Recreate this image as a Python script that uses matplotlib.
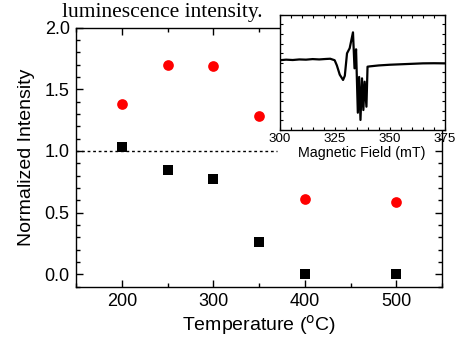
import matplotlib
matplotlib.use("Agg")
import matplotlib.pyplot as plt
from matplotlib.ticker import MultipleLocator, NullFormatter

plt.rcParams["font.family"] = ["Liberation Sans", "DejaVu Sans"]

# main panel: normalized intensity vs annealing temperature
temps = [200, 250, 300, 350, 400, 500]
red_vals = [1.38, 1.70, 1.69, 1.28, 0.61, 0.585]
black_vals = [1.035, 0.847, 0.77, 0.26, 0.005, 0.005]

# inset: EPR spectrum (field in mT, arbitrary signal)
field = [300, 303, 306, 309, 312, 315, 318, 321, 323, 325, 326, 327.3,
         328.8, 329.6, 330.6, 331.8, 333.3, 334.0, 334.7, 335.5, 336.1,
         336.7, 337.4, 338.0, 338.6, 339.4, 339.9, 341, 345, 350, 355,
         360, 365, 370, 375]
signal = [0.605, 0.610, 0.607, 0.612, 0.610, 0.615, 0.612, 0.616, 0.618,
          0.605, 0.56, 0.48, 0.434, 0.47, 0.665, 0.709, 0.847, 0.535,
          0.70, 0.15, 0.46, 0.087, 0.448, 0.173, 0.419, 0.202, 0.549,
          0.552, 0.560, 0.566, 0.570, 0.574, 0.578, 0.579, 0.578]

fig = plt.figure(figsize=(4.57, 3.38), dpi=100)
ax = fig.add_axes([0.1663, 0.1518, 0.8009, 0.7666])

ax.plot(temps, red_vals, "o", color="#ff0000", markersize=7.7, markeredgewidth=0)
ax.plot(temps, black_vals, "s", color="black", markersize=7.2, markeredgewidth=0)
ax.plot([150, 370], [1.0, 1.0], color="black", lw=1.0, dashes=(2, 2))

ax.set_xlim(150, 550)
ax.set_ylim(-0.1, 2.0)
ax.set_xticks([200, 300, 400, 500])
ax.set_yticks([0.0, 0.5, 1.0, 1.5, 2.0])
ax.xaxis.set_minor_locator(MultipleLocator(50))
ax.yaxis.set_minor_locator(MultipleLocator(0.1))
ax.tick_params(which="both", direction="in", top=True, right=True, labelsize=13, pad=4.5)
ax.tick_params(which="major", length=5, width=1)
ax.tick_params(which="minor", length=3, width=1)
ax.set_xlabel("Temperature ($^{\\rm o}$C)", fontsize=14, labelpad=2)
ax.set_ylabel("Normalized Intensity", fontsize=14, labelpad=7)
for s in ax.spines.values():
    s.set_linewidth(1.0)

fig.text(62 / 457, (338 - 16.5) / 338, "luminescence intensity.",
         family=["Liberation Serif", "DejaVu Serif"], fontsize=15.5, va="baseline")

# inset
ins = fig.add_axes([0.6116, 0.6154, 0.3621, 0.3411])
ins.plot(field, signal, color="black", lw=1.6)
ins.set_xlim(300, 375)
ins.set_ylim(0, 1)
ins.set_xticks([300, 325, 350, 375])
ins.xaxis.set_minor_locator(MultipleLocator(5))
ins.yaxis.set_major_locator(MultipleLocator(1 / 12))
ins.yaxis.set_major_formatter(NullFormatter())
ins.tick_params(which="both", direction="in", top=True, right=True,
                length=2.5, width=0.8, labelsize=9.6, pad=2)
ins.set_xlabel("Magnetic Field (mT)", fontsize=10.3, labelpad=1)
for s in ins.spines.values():
    s.set_linewidth(1.0)

fig.savefig("out.png", dpi=100)
